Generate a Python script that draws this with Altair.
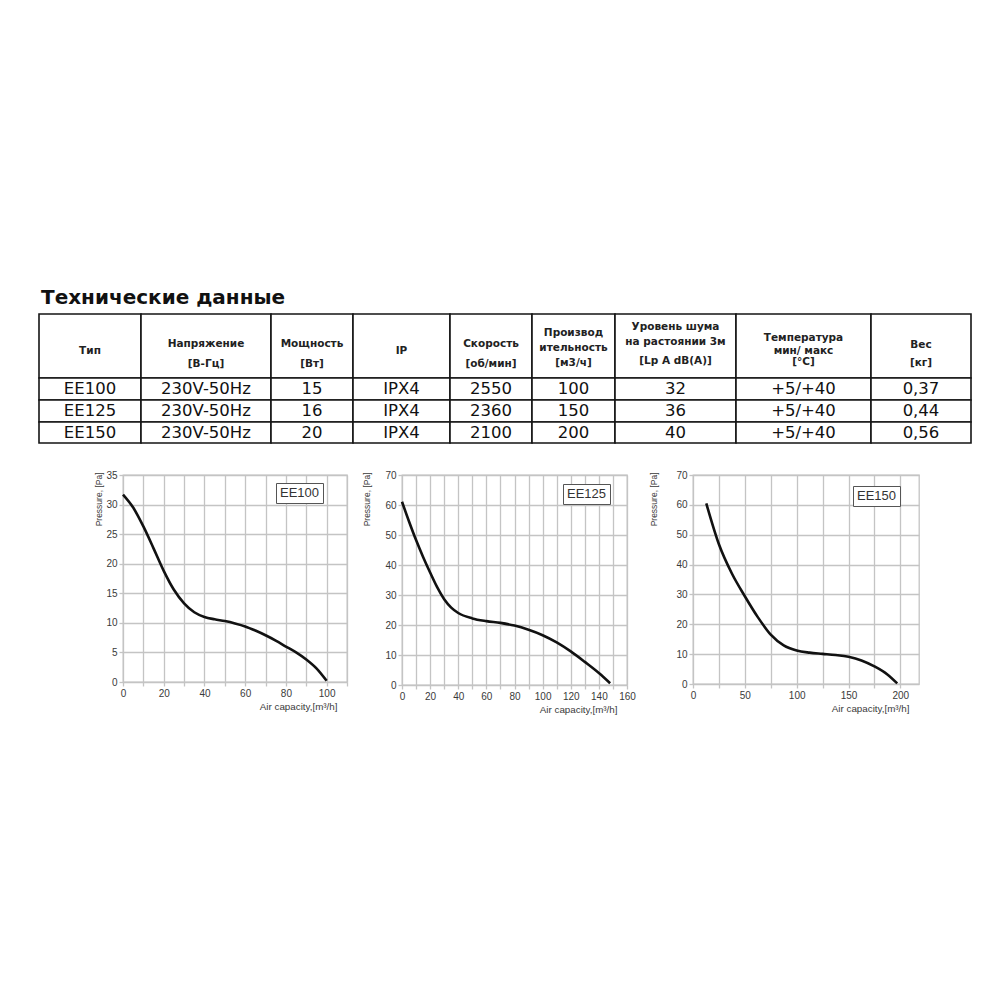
import altair as alt
import pandas as pd

# ---------------- data ----------------
table_title = "Технические данные"
header_lines = [
    ["Тип"],
    ["Напряжение", "[В-Гц]"],
    ["Мощность", "[Вт]"],
    ["IP"],
    ["Скорость", "[об/мин]"],
    ["Производ", "ительность", "[м3/ч]"],
    ["Уровень шума", "на растоянии 3м", "[Lp A dB(A)]"],
    ["Температура", "мин/ макс", "[°C]"],
    ["Вес", "[кг]"],
]
models = ["EE100", "EE125", "EE150"]
voltage = ["230V-50Hz", "230V-50Hz", "230V-50Hz"]
power = ["15", "16", "20"]
ip_class = ["IPX4", "IPX4", "IPX4"]
speed = ["2550", "2360", "2100"]
airflow = ["100", "150", "200"]
noise = ["32", "36", "40"]
temperature = ["+5/+40", "+5/+40", "+5/+40"]
weight = ["0,37", "0,44", "0,56"]

ee100_q = [0, 5, 10, 15, 20, 25, 30, 35, 40, 45, 50, 55, 60, 65, 70, 75, 80, 85, 90, 95, 100]
ee100_p = [31.7, 29.5, 26.3, 22.6, 18.8, 15.6, 13.3, 11.8, 11.0, 10.6, 10.3, 9.9, 9.4, 8.7,
           7.9, 7.0, 6.0, 5.0, 3.8, 2.3, 0.2]

ee125_q = [0, 5, 10, 15, 20, 25, 30, 35, 40, 50, 60, 70, 80, 90, 100, 110, 120, 130, 140, 148]
ee125_p = [61.1, 54.5, 48.3, 42.7, 37.5, 32.6, 28.6, 25.8, 24.0, 22.2, 21.3, 20.7, 19.8, 18.4,
           16.6, 14.2, 11.2, 7.7, 4.0, 0.6]

ee150_q = [12.8, 25, 37.5, 50, 62.5, 75, 87.5, 100, 112.5, 125, 137.5, 150, 162.5, 175, 187.5, 197]
ee150_p = [60.5, 46.8, 37.0, 29.4, 22.4, 16.5, 12.9, 11.2, 10.5, 10.1, 9.7, 9.1, 7.9, 5.9, 3.2, 0.2]

x_title = "Air capacity,[m³/h]"
y_title = "Pressure, [Pa]"

# ---------------- layout ----------------
col_widths = [102, 130, 82, 97, 82, 83, 121, 135, 100]
row_heights = [64, 22, 22, 21]
header_line_y = [[37], [29.7, 50.3], [29.7, 50], [37], [29.7, 50],
                 [18.7, 33.7, 48.7], [12.7, 28, 47], [24.3, 37, 48], [31, 48.7]]

TW = sum(col_widths)
TH = sum(row_heights)
col_edges = [0]
for w in col_widths:
    col_edges.append(col_edges[-1] + w)
row_edges = [0]
for h in row_heights:
    row_edges.append(row_edges[-1] + h)

cells = []
for r in range(len(row_heights)):
    for c in range(len(col_widths)):
        cells.append({"x0": col_edges[c], "x1": col_edges[c + 1],
                      "y0": row_edges[r], "y1": row_edges[r + 1]})
cells_df = pd.DataFrame(cells)

head = []
for c, lines in enumerate(header_lines):
    for line, yy in zip(lines, header_line_y[c]):
        head.append({"x": (col_edges[c] + col_edges[c + 1]) / 2, "y": yy, "t": line})
head_df = pd.DataFrame(head)

columns = [models, voltage, power, ip_class, speed, airflow, noise, temperature, weight]
body = []
for r in range(3):
    for c, col in enumerate(columns):
        body.append({"x": (col_edges[c] + col_edges[c + 1]) / 2,
                     "y": (row_edges[r + 1] + row_edges[r + 2]) / 2, "t": col[r]})
body_df = pd.DataFrame(body)

title_df = pd.DataFrame({"x": [2], "y": [-10], "t": [table_title]})

xs = alt.Scale(domain=[0, TW])
ys = alt.Scale(domain=[0, TH], reverse=True)

rects = alt.Chart(cells_df).mark_rect(fill="white", stroke="#151515", strokeWidth=1.6).encode(
    x=alt.X("x0:Q", scale=xs, axis=None), x2="x1:Q",
    y=alt.Y("y0:Q", scale=ys, axis=None), y2="y1:Q")
htext = alt.Chart(head_df).mark_text(font="DejaVu Sans", fontWeight="bold", fontSize=10.5,
                                     color="#222", baseline="middle").encode(
    x=alt.X("x:Q", scale=xs, axis=None), y=alt.Y("y:Q", scale=ys, axis=None), text="t:N")
btext = alt.Chart(body_df).mark_text(font="DejaVu Sans", fontSize=16.5,
                                     color="#111", baseline="middle").encode(
    x=alt.X("x:Q", scale=xs, axis=None), y=alt.Y("y:Q", scale=ys, axis=None), text="t:N")
ttext = alt.Chart(title_df).mark_text(font="DejaVu Sans", fontWeight="bold", fontSize=20,
                                      color="#111", baseline="alphabetic", align="left").encode(
    x=alt.X("x:Q", scale=xs, axis=None), y=alt.Y("y:Q", scale=ys, axis=None), text="t:N")

table = alt.layer(rects, htext, btext, ttext,
                  view=alt.ViewBackground(stroke="transparent")).properties(width=TW, height=TH)


def curve(q, p, name, xmax, xstep, xlab, xtop, ymax, ystep, w, h, ytx, lx, ly):
    df = pd.DataFrame({"q": q, "p": p, "model": name})
    xvals = list(range(0, xtop + 1, xstep))
    yvals = list(range(0, ymax + 1, ystep))
    return alt.Chart(df, view=alt.ViewBackground(stroke="#c4c4c4", strokeWidth=1.3)).mark_line(
        interpolate="monotone", strokeWidth=2.6, color="#111").encode(
        x=alt.X("q:Q", scale=alt.Scale(domain=[0, xmax], nice=False),
                axis=alt.Axis(values=xvals, labelExpr=f"datum.value % {xlab} == 0 ? datum.label : ''",
                              labelFlush=False, labelOverlap=False, title=x_title,
                              titleAlign="right", titleX=w - 10, titleY=24, titleBaseline="middle",
                              titleFontSize=9.8, tickSize=4, labelPadding=2)),
        y=alt.Y("p:Q", scale=alt.Scale(domain=[0, ymax], nice=False),
                axis=alt.Axis(values=yvals, title=y_title, titleAlign="right", titleX=ytx, titleY=-3,
                              titleBaseline="middle", titleFontSize=8.5, tickSize=4, labelPadding=2)),
        color=alt.Color("model:N", title=None, scale=alt.Scale(domain=[name], range=["#111"]),
                        legend=alt.Legend(orient="none", legendX=lx, legendY=ly, symbolType="circle",
                                          symbolSize=1, symbolOpacity=0, symbolStrokeWidth=0,
                                          labelOffset={"expr": "-12"}, labelFontSize=13,
                                          labelFont="Liberation Sans",
                                          labelColor="#333", strokeColor="#555", fillColor="white",
                                          padding=3, cornerRadius=0)),
    ).properties(width=w, height=h)


def spacer(w):
    return alt.Chart(pd.DataFrame({"v": [0]}), view=alt.ViewBackground(stroke="transparent")).mark_point(
        opacity=0, size=1).encode(x=alt.value(w / 2), y=alt.value(5)).properties(width=w, height=10)


c1 = curve(ee100_q, ee100_p, "EE100", 110, 10, 20, 110, 35, 5, 224, 207, -25, 153, 8)
c2 = curve(ee125_q, ee125_p, "EE125", 160, 10, 20, 160, 70, 10, 225, 210, -36, 161, 9)
c3 = curve(ee150_q, ee150_p, "EE150", 218, 25, 50, 200, 70, 10, 226, 209, -40, 160, 11)

charts = alt.hconcat(spacer(84), c1, spacer(55), c2, spacer(66), c3, spacing=0, bounds="flush"
                     ).resolve_scale(color="independent").resolve_legend(color="independent")

chart = alt.vconcat(table, charts, spacing=32, bounds="flush").resolve_scale(
    color="independent").resolve_legend(color="independent").properties(
    padding={"top": 279, "left": 29, "right": 10, "bottom": 10}
).configure_axis(
    labelFont="Liberation Sans", labelFontSize=10, labelColor="#3a3a3a",
    titleFont="Liberation Sans", titleFontWeight="normal", titleColor="#3a3a3a",
    gridColor="#c4c4c4", gridWidth=1.3, tickColor="#c4c4c4", tickWidth=1.3, domain=False
).configure_view(stroke="transparent")

chart.save("out.html", embed_options={"renderer": "svg", "actions": False})
